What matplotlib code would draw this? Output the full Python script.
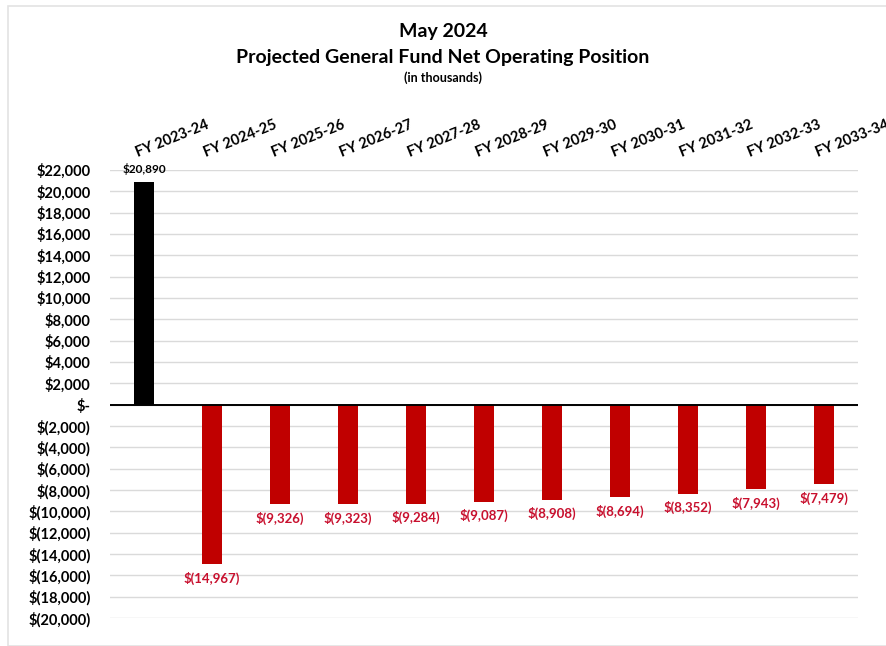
import matplotlib
matplotlib.use("Agg")
import matplotlib.pyplot as plt
from matplotlib.patches import Rectangle

# Fiscal years and projected net operating position (thousands of dollars)
fiscal_years = ["FY 2023-24", "FY 2024-25", "FY 2025-26", "FY 2026-27", "FY 2027-28",
                "FY 2028-29", "FY 2029-30", "FY 2030-31", "FY 2031-32", "FY 2032-33",
                "FY 2033-34"]
net_position = [20890, -14967, -9326, -9323, -9284, -9087, -8908, -8694, -8352, -7943, -7479]
y_ticks = list(range(-20000, 22001, 2000))

plt.rcParams["font.family"] = ["Lato", "DejaVu Sans"]

POS_COLOR = "#000000"
NEG_COLOR = "#C00000"
NEG_LABEL = "#C8102E"


def money(v):
    if v == 0:
        return "$-"
    if v < 0:
        return "$({:,})".format(-v)
    return "${:,}".format(v)


W, H = 886, 646
fig = plt.figure(figsize=(W / 100, H / 100), dpi=100)
fig.patch.set_facecolor("white")

# faint outer frame
fig.add_artist(Rectangle((8 / W, 0), 1.2, 1 - 6 / H, transform=fig.transFigure,
                         fill=False, edgecolor="#E3E3E3", linewidth=1.2))

left, right = 110 / W, 858 / W
top_px, bot_px = 170, 618
ax = fig.add_axes([left, 1 - bot_px / H, right - left, (bot_px - top_px) / H])
ax.set_ylim(-20000, 22000)
ax.set_xlim(-0.5, len(fiscal_years) - 0.5)

x = list(range(len(fiscal_years)))
colors = [POS_COLOR if v >= 0 else NEG_COLOR for v in net_position]
ax.bar(x, net_position, width=0.3, color=colors, zorder=3)

ax.set_yticks(y_ticks)
ax.set_yticklabels([money(v) for v in y_ticks], fontsize=10.5, fontweight="bold")
ax.tick_params(axis="y", length=0, pad=14)
ax.yaxis.grid(True, color="#DADADA", linewidth=1.0, zorder=0)
ax.axhline(0, color="black", linewidth=1.4, zorder=4)
for s in ax.spines.values():
    s.set_visible(False)

# category labels along the top, slanted
ax.set_xticks([])
for i, name in enumerate(fiscal_years):
    ax.text(i - 0.07, 22000 + 1000, name, rotation=22, ha="left", va="bottom",
            fontsize=10.5, fontweight="bold", rotation_mode="anchor", clip_on=False)

# value labels
for i, v in enumerate(net_position):
    if v >= 0:
        ax.text(i, v + 600, money(v), ha="center", va="bottom", fontsize=8.5,
                fontweight="bold", color="black", zorder=5)
    else:
        ax.text(i, v - 700, money(v), ha="center", va="top", fontsize=9.5,
                fontweight="bold", color=NEG_LABEL, zorder=5)

fig.text(0.5, 1 - 31 / H, "May 2024", ha="center", va="center",
         fontsize=14, fontweight="bold")
fig.text(0.5, 1 - 58 / H, "Projected General Fund Net Operating Position", ha="center",
         va="center", fontsize=14, fontweight="bold")
fig.text(0.5, 1 - 78 / H, "(in thousands)", ha="center", va="center",
         fontsize=9, fontweight="bold")

fig.savefig("out.png", dpi=100, facecolor="white")
